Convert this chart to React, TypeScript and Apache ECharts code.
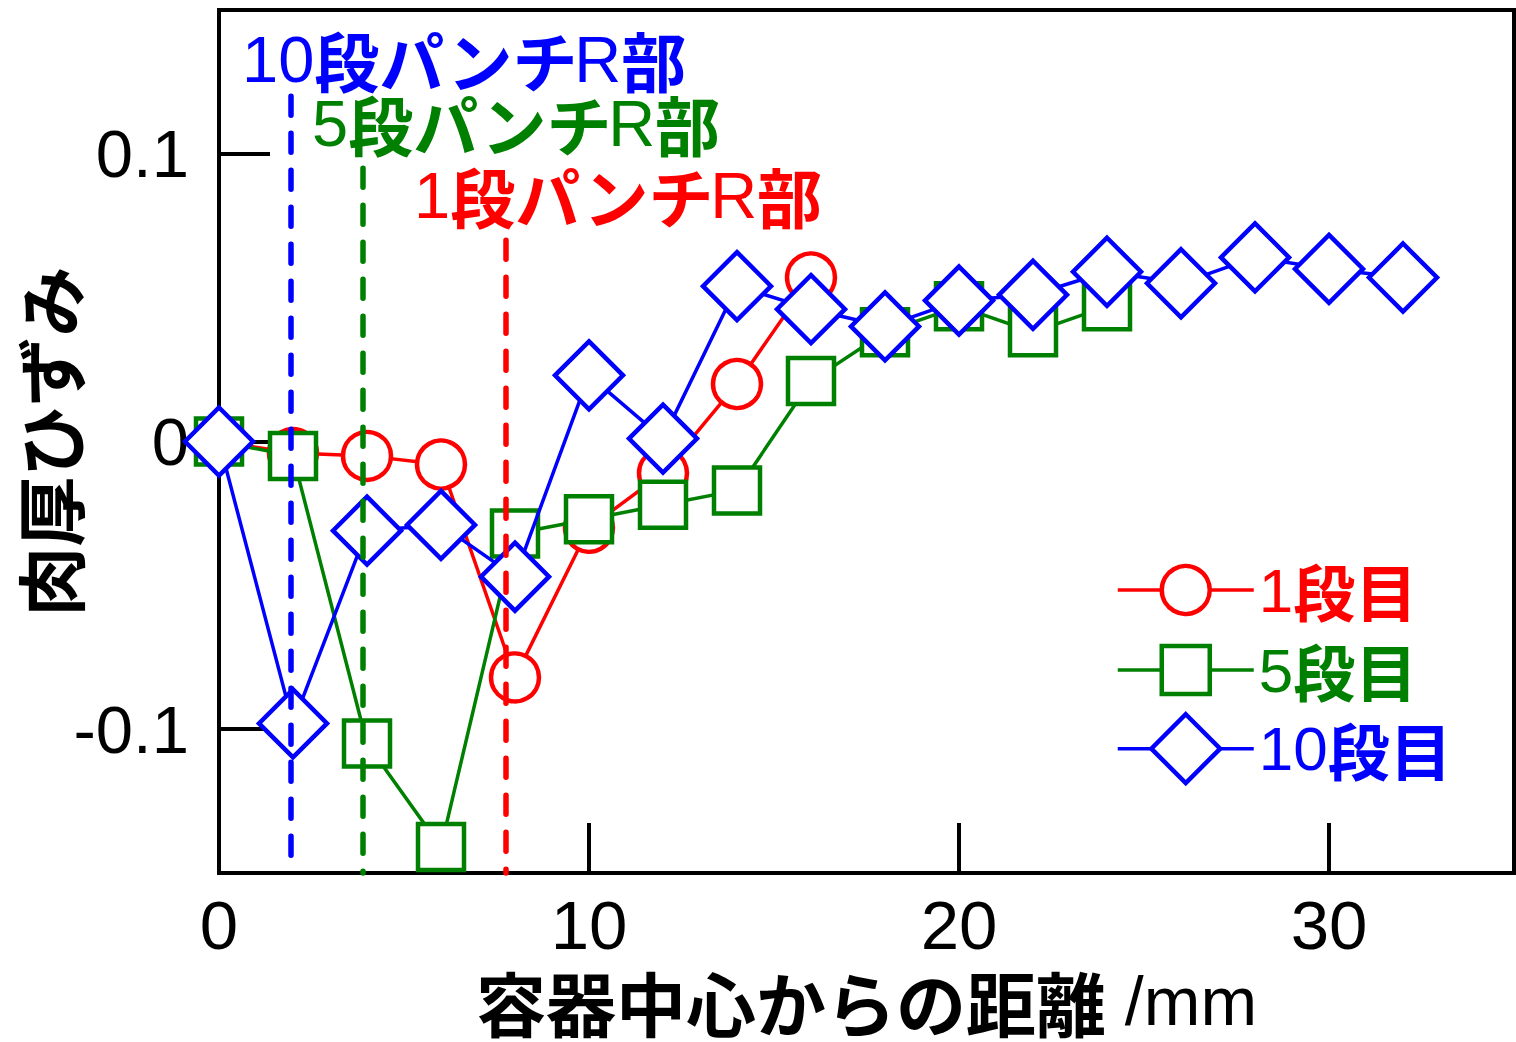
import React, { useEffect, useRef } from "react";
import * as echarts from "echarts";

const xs = [0, 2, 4, 6, 8, 10, 12, 14, 16, 18, 20, 22, 24, 26, 28, 30, 32];
const stage1 = [0, -0.004, -0.005, -0.008, -0.082, -0.030, -0.011, 0.020, 0.057];
const stage5 = [0, -0.005, -0.105, -0.141, -0.032, -0.027, -0.022, -0.017, 0.021, 0.038, 0.047, 0.038, 0.047];
const stage10 = [0, -0.098, -0.031, -0.029, -0.047, 0.023, 0.001, 0.054, 0.046, 0.040, 0.049, 0.051, 0.059, 0.055, 0.064, 0.060, 0.057];

const seriesNames = ["1段目", "5段目", "10段目"];
const punchLabels = ["1段パンチR部", "5段パンチR部", "10段パンチR部"];
const punchX = [7.76, 3.88, 1.93];
const punchTop = [0.07, 0.095, 0.12];

const xTicks = [10, 20, 30];
const xLabels = [0, 10, 20, 30];
const yTicks = [-0.1, 0, 0.1];

const RED = "#ff0000";
const GREEN = "#008000";
const BLUE = "#0000ff";
const colors = [RED, GREEN, BLUE];

const NUM = "Liberation Sans, Arial, sans-serif";
const CJK = "Noto Sans CJK JP, sans-serif";

const toPts = (vals: number[]) => vals.map((v, i) => [xs[i], v]);

const richFor = (color: string, size: number, lineHeight?: number) => ({
  n: { fontFamily: NUM, fontSize: size, color, fill: color, fontWeight: "normal", lineHeight },
  c: { fontFamily: CJK, fontSize: size, color, fill: color, fontWeight: "bold", lineHeight },
});

const toRich = (s: string) =>
  s.replace(/([0-9R]+)|([^0-9R]+)/g, (m, a) => (a ? `{n|${m}}` : `{c|${m}}`));

export default function App() {
  const ref = useRef<HTMLDivElement>(null);
  useEffect(() => {
    if (!ref.current) return;
    const chart = echarts.init(ref.current, null, { renderer: "svg" });

    const legendTops = [559, 639, 712];
    const legendHeights = [60, 60, 86];

    const dash = { type: [19, 18], width: 5.5, cap: "round" };

    const option: any = {
      animation: false,
      backgroundColor: "#fff",
      grid: {
        left: 219,
        top: 10,
        right: 2,
        bottom: 169,
        show: true,
        borderColor: "#000",
        borderWidth: 4,
        containLabel: false,
        outerBoundsMode: "none",
      },
      xAxis: {
        type: "value",
        min: 0,
        max: 35,
        name: "{c|容器中心からの距離}{m| /mm}",
        nameLocation: "middle",
        nameGap: 93,
        nameMoveOverlap: false,
        nameTextStyle: {
          rich: {
            c: { fontFamily: CJK, fontSize: 70, fontWeight: "bold", color: "#000" },
            m: { fontFamily: NUM, fontSize: 68, color: "#000" },
          },
        },
        axisLine: { show: true, onZero: false, lineStyle: { color: "#000", width: 4 } },
        axisTick: {
          show: true,
          inside: true,
          length: 50,
          customValues: xTicks,
          lineStyle: { color: "#000", width: 4 },
        },
        axisLabel: {
          customValues: xLabels,
          fontFamily: NUM,
          fontSize: 69,
          color: "#000",
          margin: 18,
        },
        splitLine: { show: false },
      },
      yAxis: {
        type: "value",
        min: -0.15,
        max: 0.15,
        name: "肉厚ひずみ",
        nameLocation: "middle",
        nameGap: 136,
        nameMoveOverlap: false,
        nameTextStyle: { fontFamily: CJK, fontSize: 70, fontWeight: "bold", color: "#000" },
        axisLine: { show: true, onZero: false, lineStyle: { color: "#000", width: 4 } },
        axisTick: {
          show: true,
          inside: true,
          length: 51,
          customValues: yTicks,
          lineStyle: { color: "#000", width: 4 },
        },
        axisLabel: {
          customValues: yTicks,
          fontFamily: NUM,
          fontSize: 67,
          color: "#000",
          margin: 30,
          formatter: (v: number) => String(Math.round(v * 1000) / 1000),
        },
        splitLine: { show: false },
      },
      legend: seriesNames.map((name, i) => ({
        data: [name],
        orient: "vertical",
        left: 1116,
        top: legendTops[i],
        padding: 0,
        itemWidth: 136,
        itemHeight: legendHeights[i],
        selectedMode: false,
        itemStyle: { borderWidth: 4.5 },
        lineStyle: { width: 3.5 },
        formatter: (n: string) => toRich(n),
        textStyle: { color: colors[i], fontSize: 62, rich: richFor(colors[i], 62) },
      })),
      series: [
        {
          name: seriesNames[0],
          type: "line",
          data: toPts(stage1),
          symbol: "circle",
          symbolSize: 48,
          itemStyle: { color: "#fff", borderColor: RED, borderWidth: 4.5 },
          lineStyle: { color: RED, width: 3.5 },
          emphasis: { disabled: true },
          z: 2,
        },
        {
          name: seriesNames[1],
          type: "line",
          data: toPts(stage5),
          symbol: "rect",
          symbolSize: 46,
          itemStyle: { color: "#fff", borderColor: GREEN, borderWidth: 4.5 },
          lineStyle: { color: GREEN, width: 3.5 },
          emphasis: { disabled: true },
          z: 3,
        },
        {
          name: seriesNames[2],
          type: "line",
          data: toPts(stage10),
          symbol: "diamond",
          symbolSize: 68,
          itemStyle: { color: "#fff", borderColor: BLUE, borderWidth: 4.5 },
          lineStyle: { color: BLUE, width: 3.5 },
          emphasis: { disabled: true },
          z: 4,
        },
        {
          name: "guides",
          type: "line",
          data: [],
          z: 10,
          silent: true,
          markLine: {
            silent: true,
            z: 10,
            symbol: ["none", "none"],
            label: { show: false },
            emphasis: { disabled: true },
            lineStyle: dash,
            data: punchX.map((x, i) => [
              { coord: [x, punchTop[i]], lineStyle: { ...dash, color: colors[i] } },
              { coord: [x, -0.15], lineStyle: { ...dash, color: colors[i] } },
            ]),
          },
        },
      ],
      graphic: [
        { left: 414, top: 195, xi: 0 },
        { left: 312, top: 123, xi: 1 },
        { left: 242, top: 59, xi: 2 },
      ].map((p) => ({
        type: "text",
        x: p.left,
        y: p.top,
        z: 20,
        style: {
          text: toRich(punchLabels[p.xi]),
          verticalAlign: "middle",
          align: "left",
          fill: colors[p.xi],
          fontSize: 65,
          lineHeight: 58,
          rich: richFor(colors[p.xi], 65, 58),
        },
      })),
    };

    chart.setOption(option);
    return () => chart.dispose();
  }, []);

  return (
    <div
      ref={ref}
      style={{ position: "fixed", left: 0, top: 0, width: 1516, height: 1042, background: "#fff" }}
    />
  );
}
